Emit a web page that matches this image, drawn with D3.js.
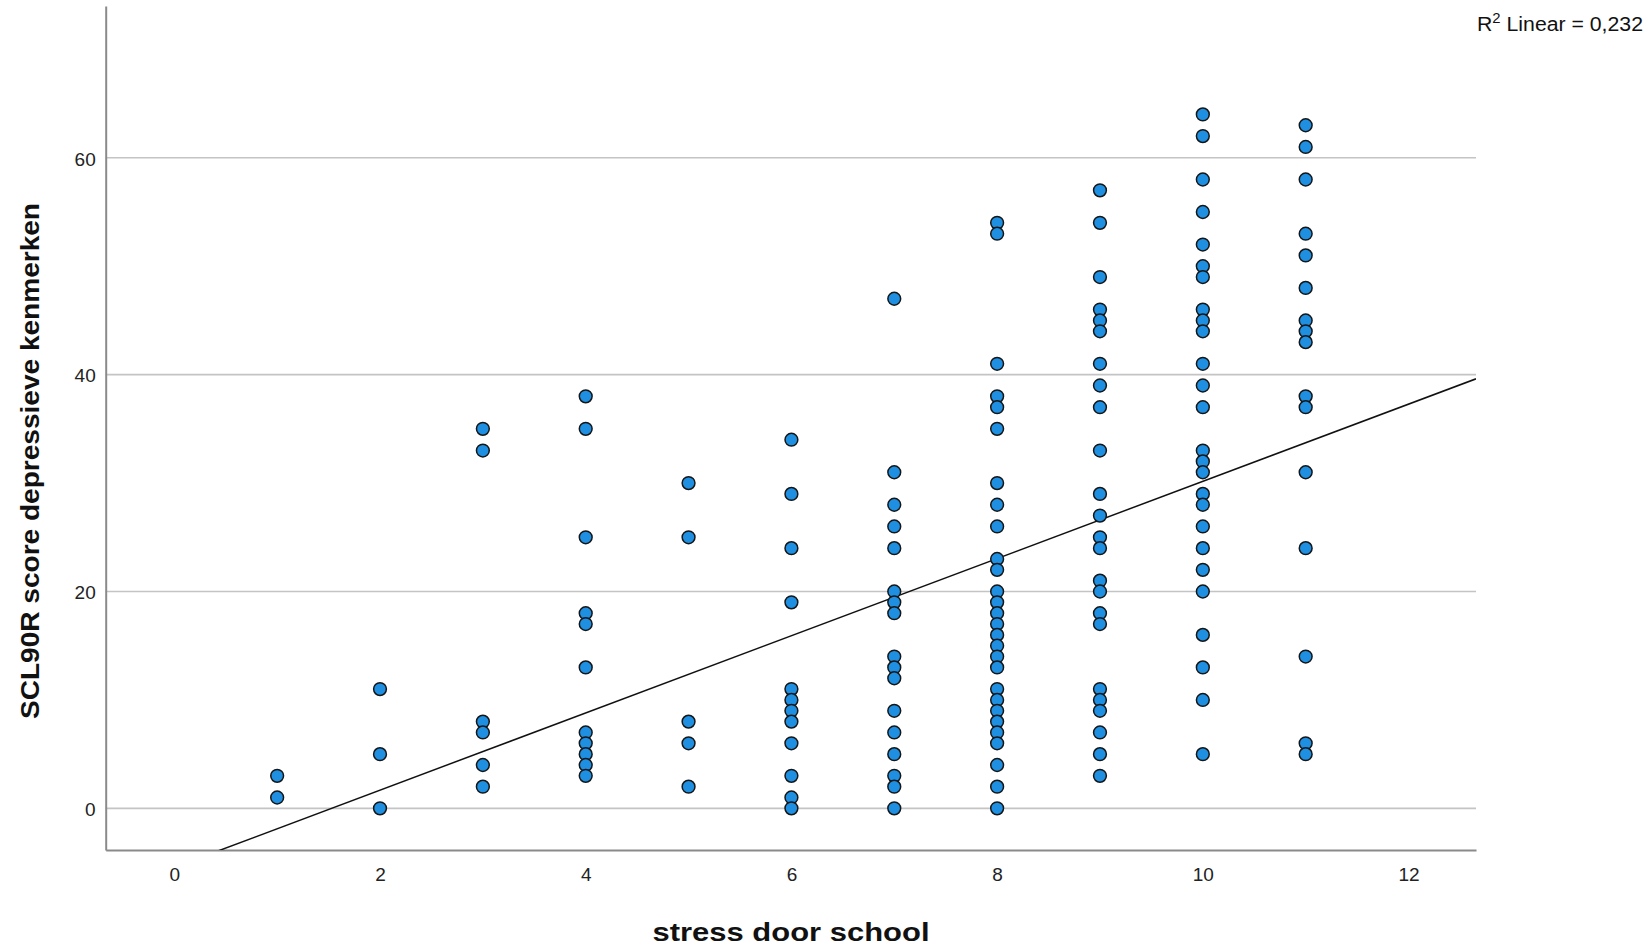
<!DOCTYPE html>
<html>
<head>
<meta charset="utf-8">
<script src="https://cdn.jsdelivr.net/npm/d3@7"></script>
<style>
  html, body { margin: 0; padding: 0; background: #fff; }
  svg { display: block; font-family: "Liberation Sans", Arial, sans-serif; }
</style>
</head>
<body>
<svg id="chart" width="1650" height="947"></svg>
<script>
// ---- data ----
const stressLevels = [1, 2, 3, 4, 5, 6, 7, 8, 9, 10, 11];
const scoresStress1 = [3, 1];
const scoresStress2 = [11, 5, 0];
const scoresStress3 = [35, 33, 8, 7, 4, 2];
const scoresStress4 = [38, 35, 25, 18, 17, 13, 7, 6, 5, 4, 3];
const scoresStress5 = [30, 25, 8, 6, 2];
const scoresStress6 = [34, 29, 24, 19, 11, 10, 9, 8, 6, 3, 1, 0];
const scoresStress7 = [47, 31, 28, 26, 24, 20, 19, 18, 14, 13, 12, 9, 7, 5, 3, 2, 0];
const scoresStress8 = [54, 53, 41, 38, 37, 35, 30, 28, 26, 23, 22, 20, 19, 18, 17, 16, 15, 14, 13, 11, 10, 9, 8, 7, 6, 4, 2, 0];
const scoresStress9 = [57, 54, 49, 46, 45, 44, 41, 39, 37, 33, 29, 27, 25, 24, 21, 20, 18, 17, 11, 10, 9, 7, 5, 3];
const scoresStress10 = [64, 62, 58, 55, 52, 50, 49, 46, 45, 44, 41, 39, 37, 33, 32, 31, 29, 28, 26, 24, 22, 20, 16, 13, 10, 5];
const scoresStress11 = [63, 61, 58, 53, 51, 48, 45, 44, 43, 38, 37, 31, 24, 14, 6, 5];
const scoresByStress = [scoresStress1, scoresStress2, scoresStress3, scoresStress4, scoresStress5,
  scoresStress6, scoresStress7, scoresStress8, scoresStress9, scoresStress10, scoresStress11];

const xTicks = [0, 2, 4, 6, 8, 10, 12];
const yTicks = [0, 20, 40, 60];
const fitIntercept = -5.44;
const fitSlope = 3.56;
const rSquaredText = "0,232";
const xTitle = "stress door school";
const yTitle = "SCL90R score depressieve kenmerken";

// ---- build points ----
const points = [];
stressLevels.forEach((s, i) => scoresByStress[i].forEach(v => points.push({x: s, y: v})));

// ---- layout ----
const svg = d3.select("#chart");
const plot = {left: 105.7, right: 1476, top: 6, bottom: 850};
const x = d3.scaleLinear().domain([-0.667, 12.656]).range([plot.left, plot.right]);
const y = d3.scaleLinear().domain([-3.84, 74.0]).range([plot.bottom, plot.top]);

svg.append("defs").append("clipPath").attr("id", "clip")
  .append("rect").attr("x", plot.left).attr("y", plot.top)
  .attr("width", plot.right - plot.left).attr("height", plot.bottom - plot.top);

// gridlines
svg.append("g").selectAll("line").data(yTicks).join("line")
  .attr("x1", plot.left).attr("x2", plot.right)
  .attr("y1", d => y(d)).attr("y2", d => y(d))
  .attr("stroke", "#c4c4c4").attr("stroke-width", 1.6);

// axes
const xAxis = d3.axisBottom(x).tickValues(xTicks).tickSize(0).tickPadding(18);
const gx = svg.append("g").attr("transform", `translate(0,${plot.bottom})`).call(xAxis);
gx.select(".domain").attr("stroke", "#8a8a8a").attr("stroke-width", 2);
gx.selectAll("text").attr("font-size", 19).attr("fill", "#222")
  .attr("font-family", "Liberation Sans, Arial, sans-serif");

const yAxis = d3.axisLeft(y).tickValues(yTicks).tickSize(0).tickPadding(10);
const gy = svg.append("g").attr("transform", `translate(${plot.left},0)`).call(yAxis);
gy.select(".domain").attr("stroke", "#8a8a8a").attr("stroke-width", 2);
gy.selectAll("text").attr("font-size", 19).attr("fill", "#222").attr("dy", "0.38em")
  .attr("font-family", "Liberation Sans, Arial, sans-serif");

// regression line
const xs = x.domain();
svg.append("line").attr("clip-path", "url(#clip)")
  .attr("x1", x(xs[0])).attr("y1", y(fitIntercept + fitSlope * xs[0]))
  .attr("x2", x(xs[1])).attr("y2", y(fitIntercept + fitSlope * xs[1]))
  .attr("stroke", "#111").attr("stroke-width", 1.5);

// points
svg.append("g").selectAll("circle").data(points).join("circle")
  .attr("cx", d => x(d.x)).attr("cy", d => y(d.y)).attr("r", 6.4)
  .attr("fill", "#1e8fe1").attr("stroke", "#161616").attr("stroke-width", 1.5);

// axis titles
svg.append("text").attr("x", 791).attr("y", 941)
  .attr("text-anchor", "middle").attr("font-size", 26).attr("font-weight", "bold")
  .attr("fill", "#111").attr("textLength", 277).attr("lengthAdjust", "spacingAndGlyphs")
  .text(xTitle);

svg.append("text").attr("transform", "translate(39,461) rotate(-90)")
  .attr("text-anchor", "middle").attr("font-size", 26).attr("font-weight", "bold")
  .attr("fill", "#111").attr("textLength", 516).attr("lengthAdjust", "spacingAndGlyphs")
  .text(yTitle);

// R² annotation
const r2 = svg.append("text").attr("x", 1477).attr("y", 31)
  .attr("font-size", 20).attr("fill", "#111")
  .attr("textLength", 166).attr("lengthAdjust", "spacingAndGlyphs");
r2.append("tspan").text("R");
r2.append("tspan").attr("font-size", 14).attr("dy", -8).text("2");
r2.append("tspan").attr("dy", 8).text("\u00a0Linear = " + rSquaredText);
</script>
</body>
</html>
